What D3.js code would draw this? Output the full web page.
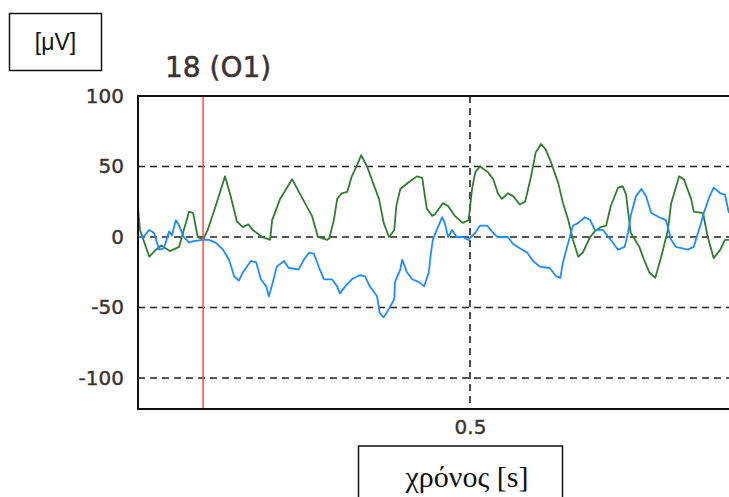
<!DOCTYPE html>
<html>
<head>
<meta charset="utf-8">
<script src="https://cdn.jsdelivr.net/npm/d3@7"></script>
<style>
  html, body { margin: 0; padding: 0; background: #fff; }
  svg { display: block; }
</style>
</head>
<body>
<svg id="chart" width="729" height="497"></svg>
<script>
// Channel 18 (O1) EEG segment: time in seconds, amplitude in microvolts
const greenTime = [0.000,0.003,0.017,0.027,0.035,0.048,0.062,0.069,0.077,0.083,0.090,0.098,0.105,0.117,0.131,0.139,0.149,0.158,0.166,0.173,0.187,0.199,0.202,0.214,0.232,0.248,0.262,0.271,0.285,0.288,0.295,0.300,0.307,0.315,0.322,0.330,0.336,0.345,0.355,0.363,0.370,0.378,0.386,0.389,0.395,0.408,0.420,0.428,0.435,0.443,0.447,0.459,0.467,0.477,0.489,0.498,0.503,0.508,0.515,0.527,0.535,0.542,0.548,0.557,0.565,0.575,0.583,0.592,0.599,0.607,0.614,0.622,0.633,0.640,0.648,0.655,0.663,0.670,0.681,0.688,0.697,0.705,0.712,0.723,0.730,0.735,0.742,0.755,0.762,0.770,0.779,0.788,0.798,0.803,0.815,0.822,0.833,0.837,0.851,0.858,0.867,0.877,0.884,0.890];
const greenValue = [21,5,-14,-9,-6,-10,-7,5,18,17,0,-2,5,22,43,30,11,7,9,5,0,-2,12,27,41,27,15,0,-2,-1,12,27,31,32,43,51,58,50,37,27,10,0,5,22,34,39,43,42,20,15,16,24,22,15,10,12,34,46,50,46,41,31,27,31,29,23,25,43,60,66,62,53,38,24,12,-2,-14,-11,0,4,7,8,22,35,36,30,3,-7,-16,-25,-29,-14,5,24,43,41,27,18,17,0,-15,-9,-2,-2];

const blueTime = [0.000,0.008,0.017,0.024,0.032,0.039,0.047,0.051,0.057,0.062,0.069,0.077,0.084,0.098,0.107,0.117,0.128,0.137,0.145,0.152,0.158,0.170,0.178,0.185,0.193,0.197,0.202,0.209,0.220,0.227,0.242,0.250,0.258,0.265,0.273,0.280,0.292,0.300,0.304,0.312,0.322,0.334,0.342,0.349,0.360,0.364,0.370,0.378,0.386,0.387,0.395,0.398,0.405,0.413,0.423,0.431,0.438,0.441,0.444,0.450,0.458,0.462,0.467,0.473,0.480,0.489,0.497,0.508,0.515,0.526,0.533,0.541,0.557,0.565,0.575,0.586,0.595,0.605,0.620,0.630,0.636,0.640,0.648,0.655,0.663,0.673,0.681,0.688,0.700,0.712,0.723,0.733,0.738,0.742,0.750,0.758,0.765,0.773,0.785,0.795,0.803,0.810,0.828,0.837,0.848,0.852,0.861,0.867,0.877,0.884,0.890];
const blueValue = [0,0,5,3,-9,-8,4,1,12,8,0,-4,-3,-2,-2,-4,-9,-16,-28,-31,-25,-17,-18,-30,-35,-42,-34,-21,-17,-22,-23,-16,-11,-12,-22,-30,-30,-35,-40,-35,-30,-27,-28,-35,-42,-54,-57,-51,-44,-32,-23,-16,-25,-30,-32,-35,-25,-12,-2,5,14,10,0,5,0,0,-2,3,8,8,4,0,0,-5,-8,-11,-17,-21,-22,-28,-29,-18,-4,8,10,14,12,5,5,-2,-9,-7,3,15,29,34,29,17,14,12,-2,-7,-9,-7,10,17,29,35,31,30,17];

const yTicks = [100, 50, 0, -50, -100];
const yGrid = [50, 0, -50, -100];
const xTicks = [0.5];
const cursorTime = 0.098;
const channelLabel = "18 (O1)";
const unitLabel = "[μV]";
const timeLabel = "χρόνος [s]";

const svg = d3.select("#chart");
const plot = { left: 138, top: 96, right: 802, bottom: 409 };
const labelColor = "#3a3330";

const x = d3.scaleLinear().domain([0, 1]).range([plot.left, plot.right]);
const y = d3.scaleLinear().domain([-122, 100]).range([plot.bottom, plot.top]);

svg.append("defs").append("clipPath").attr("id", "plotClip")
  .append("rect")
  .attr("x", plot.left).attr("y", plot.top)
  .attr("width", plot.right - plot.left).attr("height", plot.bottom - plot.top);

// dashed grid
const grid = svg.append("g");
grid.selectAll("line.h").data(yGrid).join("line")
  .attr("x1", plot.left).attr("x2", plot.right)
  .attr("y1", d => y(d)).attr("y2", d => y(d))
  .attr("stroke", "#222").attr("stroke-width", 1.6)
  .attr("stroke-dasharray", "7,5");
grid.selectAll("line.v").data(xTicks).join("line")
  .attr("x1", d => x(d)).attr("x2", d => x(d))
  .attr("y1", plot.top).attr("y2", plot.bottom)
  .attr("stroke", "#222").attr("stroke-width", 1.6)
  .attr("stroke-dasharray", "7,5");

// traces
const line = d3.line().x(d => x(d[0])).y(d => y(d[1]));
const traces = svg.append("g").attr("clip-path", "url(#plotClip)");
traces.append("path")
  .datum(d3.zip(greenTime, greenValue))
  .attr("fill", "none").attr("stroke", "#2f7d2f").attr("stroke-width", 1.8)
  .attr("stroke-linejoin", "round")
  .attr("d", line);
traces.append("path")
  .datum(d3.zip(blueTime, blueValue))
  .attr("fill", "none").attr("stroke", "#1e8cff").attr("stroke-width", 1.8)
  .attr("stroke-linejoin", "round")
  .attr("d", line);

// cursor
svg.append("line")
  .attr("x1", x(cursorTime)).attr("x2", x(cursorTime))
  .attr("y1", plot.top).attr("y2", plot.bottom)
  .attr("stroke", "#ff4a4a").attr("stroke-width", 1.5);

// frame
svg.append("path")
  .attr("d", `M${plot.right},${plot.top}H${plot.left}V${plot.bottom}H${plot.right}`)
  .attr("fill", "none").attr("stroke", "#111").attr("stroke-width", 2);

// axes
const yAxis = d3.axisLeft(y).tickValues(yTicks).tickSize(0).tickPadding(14)
  .tickFormat(d => String(d));
const gy = svg.append("g").attr("transform", `translate(${plot.left},0)`).call(yAxis);
gy.select(".domain").remove();
gy.selectAll("text")
  .attr("font-family", "DejaVu Sans, sans-serif").attr("font-size", 20)
  .attr("fill", labelColor).attr("stroke", labelColor).attr("stroke-width", 0.4);

const xAxis = d3.axisBottom(x).tickValues(xTicks).tickSize(0).tickPadding(11)
  .tickFormat(d3.format(".1f"));
const gx = svg.append("g").attr("transform", `translate(0,${plot.bottom})`).call(xAxis);
gx.select(".domain").remove();
gx.selectAll("text")
  .attr("font-family", "DejaVu Sans, sans-serif").attr("font-size", 20)
  .attr("fill", labelColor).attr("stroke", labelColor).attr("stroke-width", 0.4);

// channel title
svg.append("text")
  .attr("x", 165).attr("y", 77)
  .attr("font-family", "DejaVu Sans, sans-serif").attr("font-size", 28)
  .attr("fill", labelColor).attr("stroke", labelColor).attr("stroke-width", 0.5)
  .text(channelLabel);

// unit box
svg.append("rect").attr("x", 9.5).attr("y", 13.5).attr("width", 92).attr("height", 57)
  .attr("fill", "#fff").attr("stroke", "#111").attr("stroke-width", 1.5);
svg.append("text").attr("x", 55.5).attr("y", 50)
  .attr("text-anchor", "middle")
  .attr("font-family", "Liberation Sans, Arial, sans-serif").attr("font-size", 23)
  .attr("fill", "#111")
  .text(unitLabel);

// time box
svg.append("rect").attr("x", 358.5).attr("y", 446).attr("width", 204).attr("height", 60)
  .attr("fill", "#fff").attr("stroke", "#111").attr("stroke-width", 1.5);
svg.append("text").attr("x", 467).attr("y", 487)
  .attr("text-anchor", "middle")
  .attr("font-family", "Liberation Serif, Times New Roman, serif").attr("font-size", 30)
  .attr("fill", "#111")
  .text(timeLabel);
</script>
</body>
</html>
